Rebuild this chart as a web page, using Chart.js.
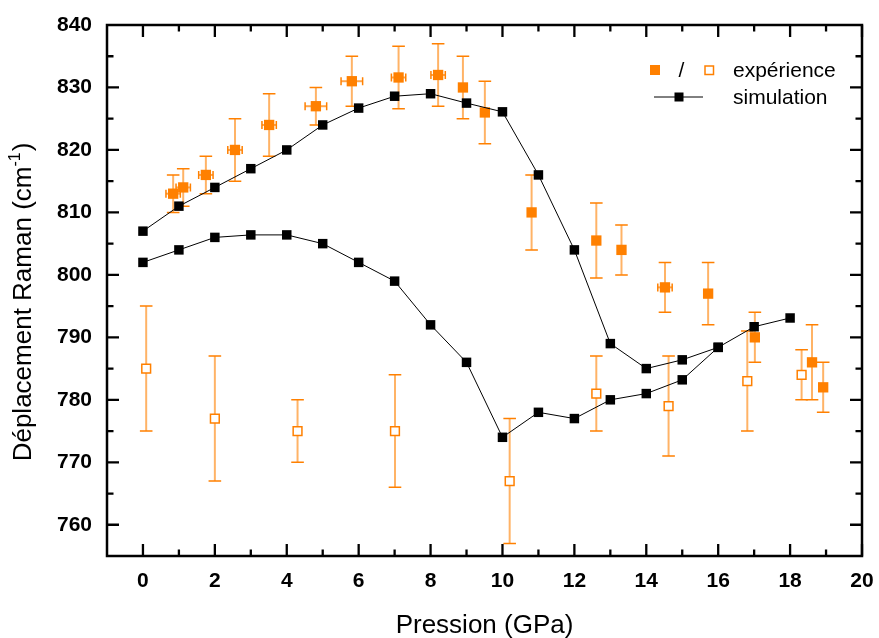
<!DOCTYPE html>
<html>
<head>
<meta charset="utf-8">
<script src="https://cdn.jsdelivr.net/npm/chart.js@4/dist/chart.umd.min.js"></script>
<style>
html,body{margin:0;padding:0;background:#fff;}
#wrap{width:879px;height:638px;position:relative;}
</style>
</head>
<body>
<div id="wrap"><canvas id="c" width="879" height="638"></canvas></div>
<script>
// ---- data ----
const simUpperX = [0,1,2,3,4,5,6,7,8,9,10,11,12,13,14,15,16,17,18];
const simUpperY = [807,811,814,817,820,824,826.7,828.6,829,827.5,826.1,816,804,789,785,786.4,788.4,791.7,793.1];
const simLowerX = [0,1,2,3,4,5,6,7,8,9,10,11,12,13,14,15,16];
const simLowerY = [802,804,806,806.4,806.4,805,802,799,792,786,774,778,777,780,781,783.2,788.4];

const expFilledX = [0.84,1.12,1.75,2.56,3.51,4.81,5.81,7.11,8.21,8.9,9.51,10.81,12.61,13.31,14.52,15.72,17.02,18.61,18.92];
const expFilledY = [813,814,816,820,824,827,831,831.6,832,830,826,810,805.5,804,798,797,790,786,782];
const expFilledYErr = [3,3,3,5,5,3,4,5,5,5,5,6,6,4,4,5,4,6,4];
const expFilledXErr = [0.2,0.2,0.2,0.2,0.2,0.3,0.3,0.2,0.2,0,0,0,0,0,0.2,0,0,0,0];

const expOpenX = [0.09,2.0,4.3,7.01,10.2,12.61,14.62,16.81,18.32];
const expOpenY = [785,777,775,775,767,781,779,783,784];
const expOpenYErr = [10,10,5,9,10,6,8,8,4];

const xTickValues = [0,2,4,6,8,10,12,14,16,18,20];
const yTickValues = [760,770,780,790,800,810,820,830,840];
const xTitle = 'Pression (GPa)';
const yTitleMain = 'Déplacement Raman (cm';
const yTitleSup = '-1';
const yTitleEnd = ')';
const legendExp = 'expérience';
const legendSim = 'simulation';

const ORANGE = '#FF8000';
const FONT = '"Liberation Sans", Arial, Helvetica, sans-serif';

function pts(xs, ys){ return xs.map((x,i)=>({x:x, y:ys[i]})); }

// error bars
const errorBars = {
  id:'errorBars',
  beforeDatasetsDraw(chart){
    const ctx = chart.ctx, xs = chart.scales.x, ys = chart.scales.y;
    ctx.save();
    const drawSet = (X, Y, YE, XE) => {
      X.forEach((x,i)=>{
        const px = xs.getPixelForValue(x);
        const py = ys.getPixelForValue(Y[i]);
        const top = ys.getPixelForValue(Y[i]+YE[i]);
        const bot = ys.getPixelForValue(Y[i]-YE[i]);
        ctx.strokeStyle = 'rgba(255,128,0,0.6)';
        ctx.lineWidth = 2;
        ctx.beginPath(); ctx.moveTo(px, top); ctx.lineTo(px, bot); ctx.stroke();
        ctx.strokeStyle = ORANGE; ctx.lineWidth = 1.5;
        ctx.beginPath();
        ctx.moveTo(px-6.3, top); ctx.lineTo(px+6.3, top);
        ctx.moveTo(px-6.3, bot); ctx.lineTo(px+6.3, bot);
        ctx.stroke();
        if (XE && XE[i] > 0) {
          const l = xs.getPixelForValue(x - XE[i]);
          const r = xs.getPixelForValue(x + XE[i]);
          ctx.strokeStyle = 'rgba(255,128,0,0.7)'; ctx.lineWidth = 2;
          ctx.beginPath(); ctx.moveTo(l, py); ctx.lineTo(r, py); ctx.stroke();
          ctx.strokeStyle = ORANGE; ctx.lineWidth = 1.5;
          ctx.beginPath();
          ctx.moveTo(l, py-4); ctx.lineTo(l, py+4);
          ctx.moveTo(r, py-4); ctx.lineTo(r, py+4);
          ctx.stroke();
        }
      });
    };
    drawSet(expOpenX, expOpenY, expOpenYErr, null);
    drawSet(expFilledX, expFilledY, expFilledYErr, expFilledXErr);
    ctx.restore();
  }
};

// frame, inward ticks, titles, legend
const frame = {
  id:'frame',
  afterDraw(chart){
    const ctx = chart.ctx, a = chart.chartArea, xs = chart.scales.x, ys = chart.scales.y;
    ctx.save();
    ctx.strokeStyle = '#000';
    ctx.lineWidth = 2.5;
    ctx.strokeRect(a.left, a.top, a.right-a.left, a.bottom-a.top);
    ctx.lineWidth = 2.3;
    ctx.beginPath();
    for (let v = 0; v <= 20; v += 1) {
      const px = xs.getPixelForValue(v);
      const len = (v % 2 === 0) ? 12 : 6.5;
      ctx.moveTo(px, a.bottom); ctx.lineTo(px, a.bottom - len);
      ctx.moveTo(px, a.top); ctx.lineTo(px, a.top + len);
    }
    for (let v = 760; v < 840; v += 5) {
      const py = ys.getPixelForValue(v);
      const len = (v % 10 === 0) ? 12 : 6.5;
      ctx.moveTo(a.left, py); ctx.lineTo(a.left + len, py);
      ctx.moveTo(a.right, py); ctx.lineTo(a.right - len, py);
    }
    ctx.stroke();

    // x title
    ctx.fillStyle = '#000';
    ctx.font = '26px ' + FONT;
    ctx.textAlign = 'center';
    ctx.textBaseline = 'alphabetic';
    ctx.fillText(xTitle, (a.left + a.right)/2, 633);

    // y title with superscript
    ctx.save();
    ctx.translate(31, 302);
    ctx.rotate(-Math.PI/2);
    ctx.textAlign = 'left';
    ctx.font = '26px ' + FONT;
    const w1 = ctx.measureText(yTitleMain).width;
    const w3 = ctx.measureText(yTitleEnd).width;
    ctx.font = '16px ' + FONT;
    const w2 = ctx.measureText(yTitleSup).width;
    const total = w1 + w2 + w3 + 1;
    let x0 = -total/2;
    ctx.font = '26px ' + FONT;
    ctx.fillText(yTitleMain, x0, 0);
    ctx.font = '16px ' + FONT;
    ctx.fillText(yTitleSup, x0 + w1, -11);
    ctx.font = '26px ' + FONT;
    ctx.fillText(yTitleEnd, x0 + w1 + w2 + 1, 0);
    ctx.restore();

    // legend
    ctx.fillStyle = ORANGE;
    ctx.fillRect(650, 65, 10, 10);
    ctx.fillStyle = '#000';
    ctx.font = '21px ' + FONT;
    ctx.textAlign = 'center';
    ctx.fillText('/', 681.5, 77);
    ctx.strokeStyle = ORANGE; ctx.lineWidth = 1.5;
    ctx.strokeRect(705, 66, 8.5, 8.5);
    ctx.fillStyle = '#000';
    ctx.textAlign = 'left';
    ctx.fillText(legendExp, 733, 77);
    ctx.strokeStyle = '#000'; ctx.lineWidth = 1;
    ctx.beginPath(); ctx.moveTo(654, 97); ctx.lineTo(703, 97); ctx.stroke();
    ctx.fillRect(674.5, 92.5, 9, 9);
    ctx.fillText(legendSim, 733, 104);
    ctx.restore();
  }
};

new Chart(document.getElementById('c'), {
  type:'scatter',
  data:{
    datasets:[
      { label:'simulation haut', data:pts(simUpperX, simUpperY), showLine:true,
        borderColor:'#000', borderWidth:1, backgroundColor:'#000',
        pointStyle:'rect', pointRadius:6.7, pointBorderWidth:0, pointBackgroundColor:'#000' },
      { label:'simulation bas', data:pts(simLowerX, simLowerY), showLine:true,
        borderColor:'#000', borderWidth:1, backgroundColor:'#000',
        pointStyle:'rect', pointRadius:6.7, pointBorderWidth:0, pointBackgroundColor:'#000' },
      { label:'expérience (pleins)', data:pts(expFilledX, expFilledY),
        pointStyle:'rect', pointRadius:7.3, pointBorderWidth:0,
        pointBackgroundColor:ORANGE, borderColor:ORANGE },
      { label:'expérience (vides)', data:pts(expOpenX, expOpenY),
        pointStyle:'rect', pointRadius:6.2, pointBorderWidth:1.5,
        pointBackgroundColor:'#fff', pointBorderColor:ORANGE, borderColor:ORANGE }
    ]
  },
  options:{
    responsive:false,
    animation:false,
    layout:{ padding:{ left:0, top:25, right:17, bottom:0 } },
    plugins:{ legend:{display:false}, tooltip:{enabled:false}, title:{display:false} },
    scales:{
      x:{
        type:'linear', min:-1, max:20,
        afterBuildTicks(s){ s.ticks = xTickValues.map(v=>({value:v})); },
        afterFit(s){ s.height = 82; },
        grid:{ display:false }, border:{ display:false },
        ticks:{ padding:5, color:'#000', maxRotation:0, font:{ family:FONT, size:21, weight:'bold' } }
      },
      y:{
        type:'linear', min:755, max:840,
        afterBuildTicks(s){ s.ticks = yTickValues.map(v=>({value:v})); },
        afterFit(s){ s.width = 107; },
        grid:{ display:false }, border:{ display:false },
        ticks:{ padding:7, color:'#000', font:{ family:FONT, size:21, weight:'bold' } }
      }
    }
  },
  plugins:[errorBars, frame]
});
</script>
</body>
</html>
